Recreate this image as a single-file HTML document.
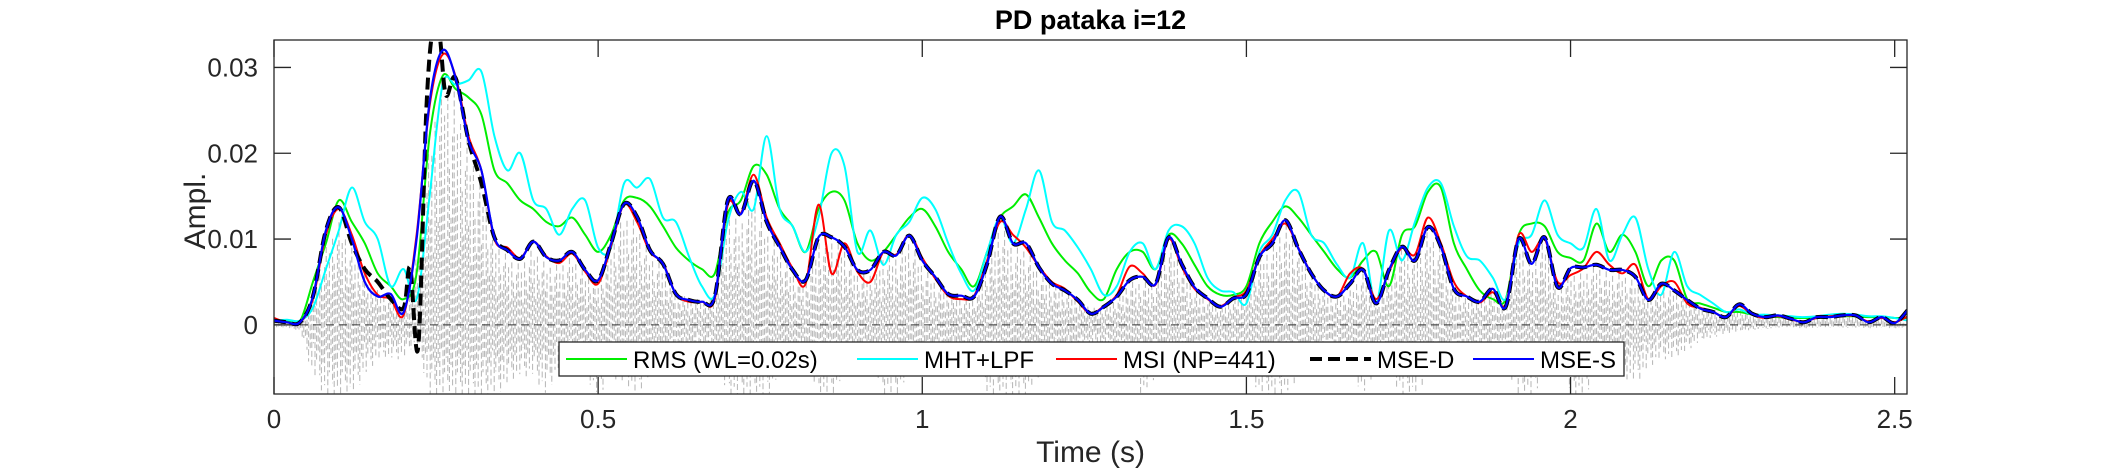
<!DOCTYPE html>
<html><head><meta charset="utf-8"><style>
html,body{margin:0;padding:0;background:#fff;}
svg{display:block;font-family:"Liberation Sans",sans-serif;}
</style></head><body>
<svg id="chart" width="2109" height="469" viewBox="0 0 2109 469">
<rect x="0" y="0" width="2109" height="469" fill="#fff"/>
<g id="plot"></g>
</svg>
<script>
const tStep = 0.02;
const mseS = [.0005,.0003,.0003,.0033,.011,.0137,.010,.005,.0033,.0036,.0015,.010,.026,.032,.0288,.0215,.018,.0102,.0087,.0077,.0097,.0079,.0075,.0085,.0064,.0052,.0095,.0141,.0126,.0087,.0071,.0036,.0029,.0027,.0033,.0145,.0129,.0168,.012,.0091,.0064,.0052,.0102,.0102,.0091,.0064,.0064,.0085,.0081,.0104,.0075,.0056,.0036,.0034,.0033,.0071,.0126,.0095,.0095,.0067,.0048,.004,.0029,.0013,.0021,.0033,.0052,.0056,.0048,.0102,.0071,.0044,.0031,.0021,.0031,.0036,.0079,.0095,.0122,.0089,.006,.004,.0033,.0048,.0064,.0025,.0064,.0091,.0075,.0114,.0091,.0042,.0033,.0027,.0042,.0021,.010,.0071,.0102,.0044,.0066,.0067,.0070,.0064,.0064,.0056,.0029,.0048,.004,.0029,.0019,.0015,.0009,.0024,.0013,.0009,.0011,.0007,.0003,.0009,.0009,.0011,.0011,.0003,.0009,.0002,.0017];
const msi = [.0008,.0003,.0003,.0030,.0105,.0135,.0105,.0060,.0035,.0030,.0012,.0105,.0255,.0315,.0290,.0220,.0180,.0100,.0090,.0078,.0097,.0080,.0072,.0083,.0062,.0048,.0092,.0140,.0120,.0085,.0072,.0036,.0027,.0027,.0030,.0140,.0130,.0175,.0125,.0095,.0066,.0048,.0140,.0060,.0095,.0062,.0050,.0085,.0082,.0105,.0078,.0054,.0034,.0030,.0034,.0075,.0120,.0105,.0090,.0068,.0050,.0042,.0027,.0013,.0022,.0035,.0068,.0060,.0047,.0100,.0068,.0042,.0030,.0022,.0032,.0040,.0080,.0100,.0118,.0090,.0060,.0040,.0033,.0060,.0065,.0030,.0062,.0090,.0082,.0125,.0095,.0050,.0033,.0026,.0038,.0024,.0105,.0085,.0100,.0050,.0058,.0066,.0085,.0070,.0060,.0070,.0030,.0045,.0050,.0025,.0020,.0015,.0009,.0022,.0012,.0008,.0010,.0006,.0004,.0008,.0010,.0011,.0010,.0004,.0008,.0003,.0010];
const rms = [.0005,.0005,.0004,.0050,.0095,.0145,.012,.0095,.0060,.0045,.003,.006,.022,.029,.0275,.0265,.0245,.018,.0165,.0145,.0135,.012,.0115,.0125,.0105,.0085,.0105,.0145,.0148,.0138,.0115,.009,.0075,.0065,.006,.013,.0145,.0185,.0175,.0135,.0115,.0085,.0135,.0155,.0145,.0095,.0075,.0085,.0105,.0125,.0135,.0115,.0085,.0065,.0045,.0085,.0125,.0138,.0152,.0125,.0095,.0075,.006,.0038,.003,.0065,.0085,.0085,.0065,.0105,.0095,.007,.0045,.0035,.0035,.0045,.0095,.012,.0138,.0125,.0105,.0085,.0065,.0055,.0075,.0085,.0045,.0105,.0115,.0155,.016,.0095,.0065,.004,.003,.003,.0105,.0118,.0115,.0085,.0078,.0075,.0118,.0085,.0105,.0085,.0045,.0075,.0075,.003,.0025,.002,.0015,.0015,.0012,.001,.0009,.0008,.0008,.0008,.001,.001,.001,.0009,.0009,.0008,.0008];
const mhtLpf = [.0005,.0006,.0005,.002,.0065,.011,.016,.012,.010,.0045,.0065,.003,.015,.028,.028,.0285,.0295,.022,.018,.020,.0145,.0135,.0105,.0135,.0145,.009,.009,.0165,.016,.017,.0125,.012,.008,.0045,.0035,.012,.0155,.0135,.022,.0135,.0115,.0085,.0125,.020,.0185,.0085,.011,.007,.0105,.012,.0148,.0135,.0095,.006,.004,.0085,.0125,.0095,.0135,.018,.012,.011,.009,.0065,.0035,.0045,.0085,.0095,.0065,.011,.0115,.0095,.0055,.004,.0038,.0025,.0085,.0105,.0145,.0155,.0105,.0095,.007,.0055,.0095,.0025,.011,.0075,.012,.016,.0165,.0115,.008,.0075,.0055,.003,.0095,.0105,.0145,.0105,.0095,.009,.0135,.0075,.0105,.0125,.0065,.0035,.0085,.0045,.0035,.0025,.0015,.0018,.0012,.0012,.0011,.001,.0009,.001,.0012,.0013,.0012,.001,.001,.0008,.0005];
const mseDTimes = [0,.02,.04,.06,.08,.10,.12,.14,.16,.18,.20,.21,.2225,.235,.245,.255,.265,.28,.30,.32,.34];
const mseDVals = [.0005,.0003,.0003,.0033,.011,.0137,.0095,.0065,.005,.003,.002,.0067,-.0026,.025,.0345,.034,.0268,.0288,.0215,.0165,.0102];
const waveUpper = [.0003,.0002,.0002,.003,.009,.012,.009,.006,.004,.003,.002,.008,.022,.029,.027,.021,.017,.010,.008,.007,.009,.007,.007,.008,.006,.005,.009,.013,.012,.008,.007,.004,.003,.003,.003,.013,.012,.016,.011,.009,.006,.005,.010,.010,.009,.006,.006,.008,.008,.010,.007,.005,.004,.003,.003,.007,.012,.009,.009,.006,.005,.004,.003,.002,.002,.003,.005,.005,.005,.010,.007,.004,.003,.002,.003,.004,.008,.009,.012,.009,.006,.004,.003,.004,.006,.003,.006,.009,.008,.011,.009,.004,.003,.003,.004,.002,.010,.007,.010,.004,.006,.006,.007,.006,.006,.005,.003,.004,.004,.003,.002,.0015,.001,.002,.001,.001,.001,.0007,.0004,.0008,.0008,.001,.001,.0004,.0008,.0003,.0003];
const waveLower = [-.0003,-.0003,-.0008,-.006,-.0085,-.0085,-.0085,-.006,-.004,-.004,-.004,-.002,-.0085,-.0085,-.0085,-.0085,-.0085,-.0085,-.007,-.006,-.006,-.0085,-.005,-.005,-.006,-.0085,-.006,-.007,-.0085,-.006,-.005,-.004,-.004,-.003,-.004,-.0085,-.0085,-.0085,-.0085,-.006,-.005,-.005,-.0085,-.0085,-.006,-.005,-.004,-.0085,-.0085,-.006,-.005,-.005,-.004,-.004,-.004,-.0085,-.0085,-.0085,-.0085,-.006,-.005,-.004,-.004,-.003,-.003,-.004,-.005,-.0085,-.006,-.006,-.006,-.005,-.004,-.004,-.004,-.004,-.0085,-.0085,-.0085,-.006,-.005,-.004,-.004,-.005,-.0085,-.005,-.006,-.0085,-.0085,-.006,-.006,-.005,-.004,-.004,-.006,-.005,-.0085,-.0085,-.006,-.005,-.008,-.0085,-.006,-.005,-.006,-.007,-.005,-.004,-.004,-.003,-.002,-.0015,-.001,-.0008,-.0006,-.0005,-.0004,-.0004,-.0004,-.0004,-.0004,-.0004,-.0004,-.0004,-.0004,-.0004,-.0003];
const xTicks = [0,0.5,1,1.5,2,2.5];
const xTickLabels = ["0","0.5","1","1.5","2","2.5"];
const yTicks = [0,0.01,0.02,0.03];
const yTickLabels = ["0","0.01","0.02","0.03"];
const legendLabels = ["RMS (WL=0.02s)","MHT+LPF","MSI (NP=441)","MSE-D","MSE-S"];

const L=274,R=1907,T=40,B=394, XMAX=2.519, YMIN=-0.00806, YMAX=0.0332;
const xs = t => L + t/XMAX*(R-L);
const ys = v => B - (v-YMIN)/(YMAX-YMIN)*(B-T);
const NS="http://www.w3.org/2000/svg";
const svg=document.getElementById('chart'), plot=document.getElementById('plot');
function mk(tag, attrs, parent){const e=document.createElementNS(NS,tag);for(const k in attrs)e.setAttribute(k,attrs[k]);(parent||svg).appendChild(e);return e;}

const defs=mk('defs',{});
const cp=mk('clipPath',{id:'clip'},defs);
mk('rect',{x:L,y:T,width:R-L,height:B-T},cp);
const g=mk('g',{'clip-path':'url(#clip)'},plot);



const pat=[1,0.55,0.85,0.35,0.95,0.65,0.45,0.8];
let wd='';
for(let px=L+1, i=0; px<R; px+=1.6, i++){
  const t=(px-L)/(R-L)*XMAX; const f=t/tStep; const k=Math.min(Math.floor(f),waveUpper.length-2); const a=f-k;
  const up=waveUpper[k]*(1-a)+waveUpper[k+1]*a, lo=waveLower[k]*(1-a)+waveLower[k+1]*a;
  const s=pat[i%pat.length], s2=pat[(i+3)%pat.length];
  wd+=`M${px.toFixed(1)} ${ys(up*s).toFixed(1)}L${px.toFixed(1)} ${ys(lo*s2).toFixed(1)}`;
}
const wave=mk('path',{d:wd,stroke:'#b4b4b4','stroke-width':1,'stroke-dasharray':'6 3',fill:'none'},g);



const zl=mk('line',{x1:L,x2:R,y1:ys(0),y2:ys(0),stroke:'#333','stroke-width':1,'stroke-dasharray':'8 5'},g);



function smoothPath(ts,vs){
  const p=ts.map((t,i)=>[xs(t),ys(vs[i])]);
  let d=`M${p[0][0].toFixed(1)} ${p[0][1].toFixed(1)}`;
  for(let i=0;i<p.length-1;i++){
    const p0=p[Math.max(i-1,0)],p1=p[i],p2=p[i+1],p3=p[Math.min(i+2,p.length-1)];
    const c1=[p1[0]+(p2[0]-p0[0])/6,p1[1]+(p2[1]-p0[1])/6],c2=[p2[0]-(p3[0]-p1[0])/6,p2[1]-(p3[1]-p1[1])/6];
    d+=`C${c1[0].toFixed(1)} ${c1[1].toFixed(1)} ${c2[0].toFixed(1)} ${c2[1].toFixed(1)} ${p2[0].toFixed(1)} ${p2[1].toFixed(1)}`;
  }
  return d;
}
const times = mseS.map((_,i)=>i*tStep);
const dT=mseDTimes.slice(), dV=mseDVals.slice();
for(let i=0;i<times.length;i++){ if(times[i]>mseDTimes[mseDTimes.length-1]+1e-9){dT.push(times[i]);dV.push(mseS[i]);} }

const r1=mk('path',{d:smoothPath(times,rms),stroke:'#00ee00','stroke-width':2,fill:'none'},g);


const r2=mk('path',{d:smoothPath(times,mhtLpf),stroke:'#00ffff','stroke-width':2,fill:'none'},g);


const r3=mk('path',{d:smoothPath(times,msi),stroke:'#ff0000','stroke-width':2,fill:'none'},g);


const r4=mk('path',{d:smoothPath(dT,dV),stroke:'#000','stroke-width':4,'stroke-dasharray':'12 6',fill:'none'},g);


const r5=mk('path',{d:smoothPath(times,mseS),stroke:'#0000ff','stroke-width':2.2,fill:'none'},g);



const box=mk('rect',{x:L,y:T,width:R-L,height:B-T,fill:'none',stroke:'#262626','stroke-width':1.3});


xTicks.forEach((t,i)=>{
  const x=xs(t);
  const tk=mk('path',{d:`M${x} ${B}V${B-17}M${x} ${T}V${T+17}`,stroke:'#262626','stroke-width':1.3});
  
  
  const lb=mk('text',{x:x,y:428,'font-size':26,'text-anchor':'middle',fill:'#262626'});
  lb.textContent=xTickLabels[i];
  
  
});
yTicks.forEach((v,i)=>{
  const y=ys(v);
  const tk=mk('path',{d:`M${L} ${y}H${L+17}M${R} ${y}H${R-17}`,stroke:'#262626','stroke-width':1.3});
  
  
  const lb=mk('text',{x:258,y:y+9,'font-size':26,'text-anchor':'end',fill:'#262626'});
  lb.textContent=yTickLabels[i];
  
  
});
const title=mk('text',{x:(L+R)/2,y:29,'font-size':27,'font-weight':'bold','text-anchor':'middle',fill:'#000'});
title.textContent='PD pataka i=12';


const xl=mk('text',{x:(L+R)/2,y:462,'font-size':30,'text-anchor':'middle',fill:'#262626'});
xl.textContent='Time (s)';


const yl=mk('text',{x:0,y:0,'font-size':30,'text-anchor':'middle',fill:'#262626',transform:`translate(205,${(T+B)/2-6}) rotate(-90)`});
yl.textContent='Ampl.';



const lg=mk('g',{});


mk('rect',{x:559,y:342,width:1065,height:34,fill:'#fff',stroke:'#262626','stroke-width':1.3},lg);
const lgX=[566,857,1056,1310,1473];
const lgStyle=[['#00ee00',2,''],['#00ffff',2,''],['#ff0000',2,''],['#000',4,'12 6'],['#0000ff',2,'']];
legendLabels.forEach((name,i)=>{
  const e=mk('g',{},lg);
  
  
  const a={x1:lgX[i],x2:lgX[i]+61,y1:359,y2:359,stroke:lgStyle[i][0],'stroke-width':lgStyle[i][1]};
  if(lgStyle[i][2])a['stroke-dasharray']=lgStyle[i][2];
  mk('line',a,e);
  const tx=mk('text',{x:lgX[i]+67,y:368,'font-size':24,fill:'#000'},e);
  tx.textContent=name;
});
</script>
</body></html>
